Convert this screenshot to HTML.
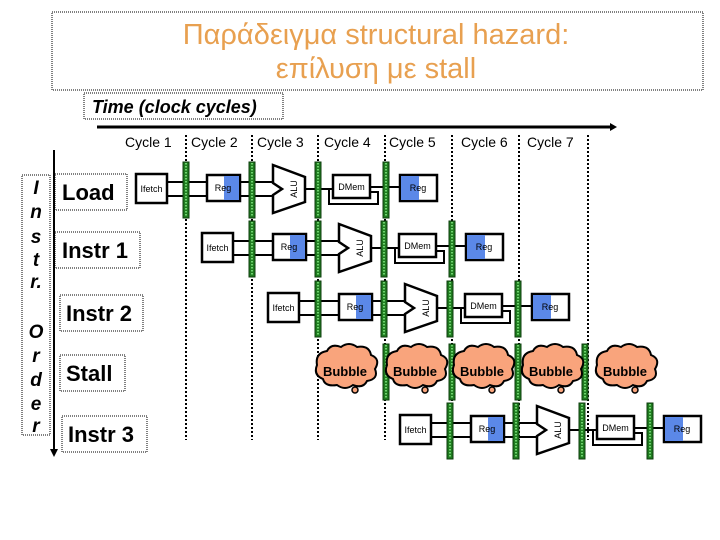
<!DOCTYPE html>
<html><head><meta charset="utf-8"><style>
body{margin:0;background:#fff;}
svg{display:block;font-family:"Liberation Sans",Arial,sans-serif;}
</style></head><body>
<svg width="720" height="540" viewBox="0 0 720 540" xmlns="http://www.w3.org/2000/svg">
<defs>
<g id="latch">
  <rect x="0" y="-27" width="6" height="56" fill="#1f7a1f" stroke="#0d3d0d" stroke-width="1"/>
  <line x1="3" y1="-26" x2="3" y2="28" stroke="#6fd46f" stroke-width="2" stroke-dasharray="1.5,1.5"/>
</g>
<g id="pipe">
  <!-- connecting lines -->
  <g stroke="#000" stroke-width="2">
    <line x1="31" y1="-7" x2="71" y2="-7"/><line x1="31" y1="7" x2="71" y2="7"/>
    <line x1="104" y1="-7" x2="140" y2="-7"/><line x1="104" y1="7" x2="140" y2="7"/>
    <line x1="168" y1="0" x2="197" y2="0"/>
    <line x1="234" y1="-2" x2="264" y2="-2"/>
    <polyline points="234,3 242,3 242,15 193,15 193,0" fill="none"/>
  </g>
  <rect x="0" y="-15" width="31" height="29" fill="#fff" stroke="#000" stroke-width="2.5"/>
  <text x="15.5" y="3" font-size="9" text-anchor="middle">Ifetch</text>
  <use href="#latch" x="47"/>
  <rect x="71" y="-14" width="33" height="26" fill="#fff" stroke="#000" stroke-width="2.5"/>
  <rect x="88" y="-13" width="15" height="24" fill="#5b88e8"/>
  <text x="87" y="2" font-size="9" text-anchor="middle">Reg</text>
  <use href="#latch" x="113"/>
  <polygon points="137,-24 169,-12 169,13 137,24 137,6 146,0 137,-6" fill="#fff" stroke="#000" stroke-width="2.5" stroke-linejoin="miter"/>
  <text transform="translate(161,0) rotate(-90)" font-size="9" text-anchor="middle">ALU</text>
  <use href="#latch" x="179"/>
  <rect x="197" y="-14" width="37" height="23" fill="#fff" stroke="#000" stroke-width="2.5"/>
  <text x="215.5" y="1" font-size="9" text-anchor="middle">DMem</text>
  <use href="#latch" x="247"/>
  <rect x="264" y="-14" width="37" height="26" fill="#fff" stroke="#000" stroke-width="2.5"/>
  <rect x="265" y="-13" width="18" height="24" fill="#5b88e8"/>
  <text x="282" y="2" font-size="9" text-anchor="middle">Reg</text>
</g>
<g id="bubble">
  <path d="M-28,-6 q-2,-12 10,-14 q4,-8 14,-4 q8,-6 16,0 q12,-2 14,8 q10,4 4,14 q4,10 -8,12 q-4,8 -14,4 q-8,6 -16,0 q-12,2 -14,-6 q-10,-4 -6,-14z" fill="#f9a47c" stroke="#000" stroke-width="2"/>
  <circle cx="10" cy="19" r="3" fill="#f9a47c" stroke="#000" stroke-width="1.5"/>
  <text x="0" y="5" font-size="13" font-weight="bold" text-anchor="middle">Bubble</text>
</g>
</defs>

<!-- title -->
<rect x="52" y="12" width="651" height="78" fill="none" stroke="#000" stroke-width="1" stroke-dasharray="1,1"/>
<text x="376" y="44" font-size="29" fill="#e8a050" text-anchor="middle">Παράδειγμα structural hazard:</text>
<text x="376" y="78" font-size="29" fill="#e8a050" text-anchor="middle">επίλυση με stall</text>

<rect x="84" y="93" width="199" height="26" fill="none" stroke="#000" stroke-width="1" stroke-dasharray="1,1"/>
<text x="92" y="113" font-size="18" font-weight="bold" font-style="italic">Time (clock cycles)</text>
<line x1="97" y1="127" x2="610" y2="127" stroke="#000" stroke-width="3"/>
<polygon points="610,123 617,127 610,131" fill="#000"/>

<g font-size="14" fill="#000">
<text x="125" y="147">Cycle 1</text><text x="191" y="147">Cycle 2</text><text x="257" y="147">Cycle 3</text>
<text x="324" y="147">Cycle 4</text><text x="389" y="147">Cycle 5</text><text x="461" y="147">Cycle 6</text><text x="527" y="147">Cycle 7</text>
</g>
<g stroke="#000" stroke-width="2" stroke-dasharray="2,2">
<line x1="186" y1="135" x2="186" y2="440"/><line x1="252" y1="135" x2="252" y2="440"/>
<line x1="318" y1="135" x2="318" y2="440"/><line x1="385" y1="135" x2="385" y2="440"/>
<line x1="452" y1="135" x2="452" y2="440"/><line x1="519" y1="135" x2="519" y2="440"/>
<line x1="588" y1="135" x2="588" y2="440"/>
</g>

<!-- left labels -->
<rect x="22" y="175" width="28" height="260" fill="#fff" stroke="#000" stroke-width="1" stroke-dasharray="1,1"/>
<g font-size="19" font-weight="bold" font-style="italic" text-anchor="middle">
<text x="36" y="194">I</text><text x="36" y="218">n</text><text x="36" y="243">s</text><text x="36" y="266">t</text><text x="36" y="288">r.</text>
<text x="36" y="338">O</text><text x="36" y="362">r</text><text x="36" y="386">d</text><text x="36" y="410">e</text><text x="36" y="432">r</text>
</g>
<line x1="54" y1="150" x2="54" y2="450" stroke="#000" stroke-width="2"/>
<polygon points="50,449 58,449 54,457" fill="#000"/>
<g font-size="22" font-weight="bold" stroke="#000" stroke-width="1" stroke-dasharray="1,1" fill="#fff">
<rect x="55" y="174" width="72" height="36"/>
<rect x="55" y="232" width="85" height="36"/>
<rect x="60" y="295" width="83" height="36"/>
<rect x="60" y="355" width="65" height="36"/>
<rect x="62" y="416" width="85" height="36"/>
</g>
<g font-size="22" font-weight="bold">
<text x="62" y="200">Load</text><text x="62" y="258">Instr 1</text><text x="66" y="321">Instr 2</text>
<text x="66" y="381">Stall</text><text x="68" y="442">Instr 3</text>
</g>

<!-- pipelines -->
<use href="#pipe" x="136" y="189"/>
<use href="#pipe" x="202" y="248"/>
<use href="#pipe" x="268" y="308"/>
<use href="#pipe" x="400" y="430"/>

<!-- stall row -->
<use href="#latch" x="383" y="371"/>
<use href="#latch" x="449" y="371"/>
<use href="#latch" x="515" y="371"/>
<use href="#latch" x="582" y="371"/>
<use href="#bubble" x="345" y="371"/>
<use href="#bubble" x="415" y="371"/>
<use href="#bubble" x="482" y="371"/>
<use href="#bubble" x="551" y="371"/>
<use href="#bubble" x="625" y="371"/>
</svg>
</body></html>
